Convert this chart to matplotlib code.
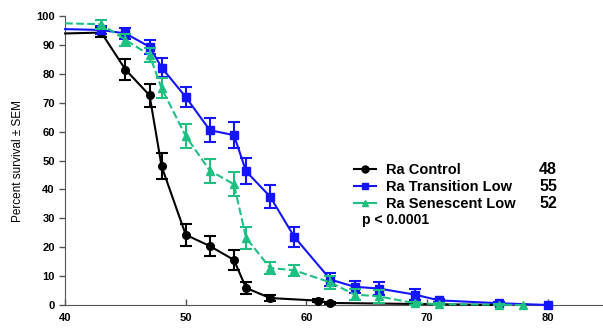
import matplotlib
matplotlib.use("Agg")
import matplotlib.pyplot as plt
from matplotlib.lines import Line2D

plt.rcParams['font.family'] = ['Liberation Sans', 'DejaVu Sans']

ctrl_x = [40, 43, 45, 47, 48, 50, 52, 54, 55, 57, 61, 62, 76]
ctrl_y = [94, 94.3, 81.5, 72.6, 48, 24.3, 20.4, 15.6, 5.9, 2.4, 1.5, 0.7, 0]
ctrl_e = [0, 1.5, 3.5, 4.0, 4.5, 3.8, 3.6, 3.4, 2.0, 1.0, 0.4, 0.4, 0]

trans_x = [40, 43, 45, 47, 48, 50, 52, 54, 55, 57, 59, 62, 64, 66, 69, 71, 76, 80]
trans_y = [95.5, 95.2, 94, 89.4, 82.2, 72, 60.5, 58.8, 46.3, 37.5, 23.6, 8.8, 6.3, 5.7, 3.6, 1.6, 0.6, 0]
trans_e = [0, 1.5, 2.0, 2.5, 3.2, 3.6, 4.2, 4.5, 4.5, 4.0, 3.5, 2.2, 2.0, 2.2, 1.8, 0.6, 0.5, 0]

sen_x = [40, 43, 45, 47, 48, 50, 52, 54, 55, 57, 59, 62, 64, 66, 69, 71, 76, 78]
sen_y = [97.5, 97.2, 91.8, 86.5, 75, 58.5, 46.5, 41.8, 23.3, 12.8, 12.0, 7.8, 3.6, 3.0, 0.6, 0.3, 0.1, 0]
sen_e = [0, 1.5, 2.0, 2.5, 3.5, 4.0, 4.2, 4.2, 3.8, 2.0, 2.0, 2.2, 2.0, 2.2, 0.6, 0.3, 0.2, 0]

labels = ["Ra Control", "Ra Transition Low", "Ra Senescent Low"]
medians = ["48", "55", "52"]
colors = ["#000000", "#1414ff", "#1ec082"]
markers = ['o', 's', '^']
styles = ['-', '-', '--']

fig = plt.figure(figsize=(6.03, 3.29), dpi=100)
ax = fig.add_axes([0.108, 0.073, 0.892, 0.878])

series = [(ctrl_x, ctrl_y, ctrl_e), (trans_x, trans_y, trans_e), (sen_x, sen_y, sen_e)]
for i, (xs, ys, es) in enumerate(series):
    z = 3 + i
    ax.plot(xs, ys, color=colors[i], ls=styles[i], lw=1.5, marker=markers[i], ms=5.5,
            markevery=list(range(1, len(xs))), zorder=z, clip_on=False)
    ex = [x for x, e in zip(xs, es) if e > 0]
    ey = [y for y, e in zip(ys, es) if e > 0]
    ee = [e for e in es if e > 0]
    ax.errorbar(ex, ey, yerr=ee, fmt='none', ecolor=colors[i], capsize=4.5,
                elinewidth=1.5, capthick=1.5, zorder=z)

ax.set_xlim(40, 84.6)
ax.set_ylim(0, 100)
ax.set_xticks([40, 50, 60, 70, 80])
ax.set_yticks(range(0, 101, 10))
ax.spines['top'].set_visible(False)
ax.spines['right'].set_visible(False)
ax.spines['left'].set_color('#555555')
ax.spines['bottom'].set_color('#555555')
ax.tick_params(axis='y', direction='out', length=4, labelsize=8, width=1, color='#555555')
ax.tick_params(axis='x', direction='in', length=4, labelsize=8, width=1, color='#555555', pad=6)
for t in ax.get_xticklabels() + ax.get_yticklabels():
    t.set_fontweight('bold')
ax.set_ylabel("Percent survival ± SEM", fontsize=8.5, labelpad=9)

handles = [Line2D([], [], color=colors[i], ls='-', lw=1.5, marker=markers[i], ms=5)
           for i in range(3)]
leg = ax.legend(handles, labels, loc='center left',
                bbox_to_anchor=((354 - 65) / 538, 1 - (187 - 16) / 289),
                bbox_transform=ax.transAxes,
                frameon=False, fontsize=10.5, handlelength=1.5, handletextpad=0.7,
                labelspacing=0.2, borderaxespad=0, borderpad=0)
for t in leg.get_texts():
    t.set_fontweight('bold')

for i, m in enumerate(medians):
    fig.text(557 / 603, 1 - (170 + 16.5 * i) / 329, m, ha='right', va='center',
             fontsize=11.5, fontweight='bold')
fig.text(362 / 603, 1 - 220 / 329, "p < 0.0001", ha='left', va='center',
         fontsize=10, fontweight='bold')

fig.savefig("out.png", dpi=100)
